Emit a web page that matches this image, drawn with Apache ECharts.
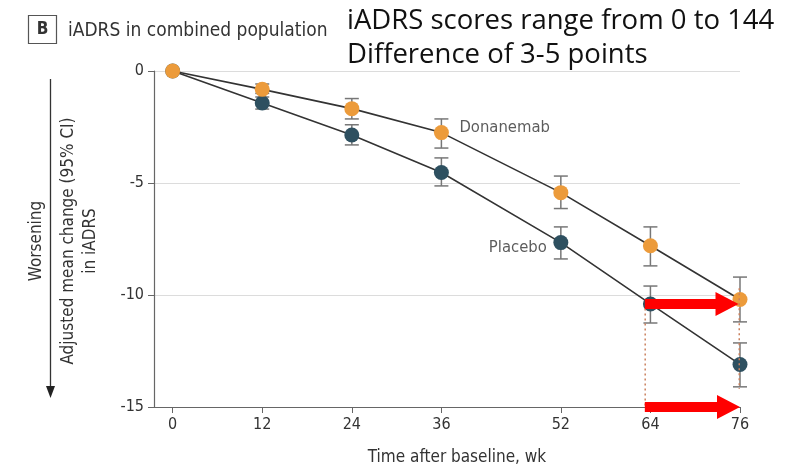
<!DOCTYPE html>
<html>
<head>
<meta charset="utf-8">
<script src="https://cdn.jsdelivr.net/npm/echarts@6/dist/echarts.min.js"></script>
<style>
  html, body { margin: 0; padding: 0; background: #fff; }
  #chart { width: 786px; height: 470px; }
</style>
</head>
<body>
<div id="chart"></div>
<script>
var weeks = [0, 12, 24, 36, 52, 64, 76];
var donanemab = [0, -0.82, -1.68, -2.75, -5.43, -7.8, -10.2];
var donanemabHigh = [null, -0.58, -1.23, -2.14, -4.69, -6.96, -9.2];
var donanemabLow = [null, -1.0, -2.14, -3.44, -6.14, -8.7, -11.2];
var placebo = [0, -1.43, -2.86, -4.53, -7.66, -10.4, -13.1];
var placeboHigh = [null, -1.16, -2.4, -3.88, -6.96, -9.6, -12.14];
var placeboLow = [null, -1.7, -3.3, -5.13, -8.39, -11.25, -14.1];

// red annotation arrows: [fromWeek, toWeek, value]
var arrows = [[63.25, 75.8, -10.4], [63.25, 76, -15]];
// dotted guides: [week, top, bottom]
var guides = [[63.3, -10.6, -15], [75.9, -9.7, -14.2]];

var font = "'Liberation Sans Narrow', 'DejaVu Sans Condensed', sans-serif";
var orange = '#EC9B3B';
var teal = '#2E5060';

function pairs(ys) {
  return weeks.map(function (w, i) { return [w, ys[i]]; });
}
function bars(lo, hi) {
  var out = [];
  weeks.forEach(function (w, i) {
    if (lo[i] != null) out.push([w, lo[i], hi[i]]);
  });
  return out;
}

function errorBarItem(params, api) {
  var x = api.value(0);
  var a = api.coord([x, api.value(1)]);
  var b = api.coord([x, api.value(2)]);
  var hw = 7;
  var st = { stroke: '#777', lineWidth: 1.5 };
  return {
    type: 'group',
    children: [
      { type: 'line', shape: { x1: a[0], y1: a[1], x2: b[0], y2: b[1] }, style: st },
      { type: 'line', shape: { x1: a[0] - hw, y1: a[1], x2: a[0] + hw, y2: a[1] }, style: st },
      { type: 'line', shape: { x1: b[0] - hw, y1: b[1], x2: b[0] + hw, y2: b[1] }, style: st }
    ]
  };
}

var chart = echarts.init(document.getElementById('chart'));

var option = {
  animation: false,
  grid: { left: 154, right: 46, top: 71, bottom: 63 },
  xAxis: {
    type: 'value',
    min: -2.5,
    max: 76,
    splitLine: { show: false },
    axisLine: { onZero: false, lineStyle: { color: '#666', width: 1.2 } },
    axisTick: { customValues: weeks, length: 6, lineStyle: { color: '#666' } },
    axisLabel: { customValues: weeks, color: '#333', fontSize: 16, fontFamily: font, margin: 10 }
  },
  yAxis: {
    type: 'value',
    min: -15,
    max: 0,
    interval: 5,
    axisLine: { show: true, onZero: false, lineStyle: { color: '#666', width: 1.2 } },
    axisTick: { show: true, length: 6, lineStyle: { color: '#666' } },
    axisLabel: { color: '#333', fontSize: 16, fontFamily: font, margin: 10 },
    splitLine: { lineStyle: { color: '#dcdcdc', width: 1.2 } }
  },
  series: [
    {
      type: 'custom',
      renderItem: errorBarItem,
      data: bars(donanemabLow, donanemabHigh),
      z: 2
    },
    {
      type: 'custom',
      renderItem: errorBarItem,
      data: bars(placeboLow, placeboHigh),
      z: 2
    },
    {
      name: 'Placebo',
      type: 'line',
      data: pairs(placebo),
      symbol: 'circle',
      symbolSize: 15,
      itemStyle: { color: teal },
      lineStyle: { color: '#333', width: 1.6 },
      z: 3
    },
    {
      name: 'Donanemab',
      type: 'line',
      data: pairs(donanemab),
      symbol: 'circle',
      symbolSize: 15,
      itemStyle: { color: orange },
      lineStyle: { color: '#333', width: 1.6 },
      z: 4
    },
    {
      // series name labels
      type: 'scatter',
      symbolSize: 0,
      silent: true,
      data: [
        { value: [weeks[3], donanemab[3]], label: { show: true, formatter: 'Donanemab', position: 'right', distance: 18, offset: [0, -5] } },
        { value: [weeks[4], placebo[4]], label: { show: true, formatter: 'Placebo', position: 'left', distance: 14, offset: [0, 5] } }
      ],
      label: { color: '#333', fontSize: 16.5, fontFamily: font },
      z: 5
    },
    {
      type: 'custom',
      silent: true,
      data: guides,
      renderItem: function (params, api) {
        var x = api.value(0);
        var a = api.coord([x, api.value(1)]);
        var b = api.coord([x, api.value(2)]);
        return {
          type: 'line',
          shape: { x1: a[0], y1: a[1], x2: b[0], y2: b[1] },
          style: { stroke: '#C9805E', lineWidth: 1.5, lineDash: [2, 3] }
        };
      },
      z: 6
    },
    {
      type: 'custom',
      silent: true,
      data: arrows,
      renderItem: function (params, api) {
        var p0 = api.coord([api.value(0), api.value(2)]);
        var p1 = api.coord([api.value(1), api.value(2)]);
        var ht = 5, hh = 12, hl = 23;
        var bx = p1[0] - hl, y = p0[1];
        return {
          type: 'polygon',
          shape: {
            points: [
              [p0[0], y - ht], [bx, y - ht], [bx, y - hh], [p1[0], y],
              [bx, y + hh], [bx, y + ht], [p0[0], y + ht]
            ]
          },
          style: { fill: '#FF0000' }
        };
      },
      z: 7
    }
  ],
  graphic: [
    {
      type: 'rect',
      shape: { x: 28.5, y: 15.5, width: 28, height: 28 },
      style: { fill: '#fff', stroke: '#555', lineWidth: 1.2 }
    },
    {
      type: 'text',
      x: 42.5, y: 30,
      style: { text: 'B', fill: '#333', font: 'bold 17px ' + font, align: 'center', verticalAlign: 'middle' }
    },
    {
      type: 'text',
      x: 68, y: 31,
      style: { text: 'iADRS in combined population', fill: '#333', font: '19px ' + font, verticalAlign: 'middle' }
    },
    {
      type: 'text',
      x: 347, y: 21,
      style: { text: 'iADRS scores range from 0 to 144', fill: '#111', font: '27.5px "Open Sans", sans-serif', verticalAlign: 'middle' }
    },
    {
      type: 'text',
      x: 347, y: 55,
      style: { text: 'Difference of 3-5 points', fill: '#111', font: '27.5px "Open Sans", sans-serif', verticalAlign: 'middle' }
    },
    {
      type: 'text',
      x: 80, y: 241,
      rotation: Math.PI / 2,
      style: {
        text: 'Adjusted mean change (95% CI)\nin iADRS',
        fill: '#333', font: '17px ' + font, lineHeight: 22,
        align: 'center', verticalAlign: 'middle'
      }
    },
    {
      type: 'text',
      x: 37, y: 241,
      rotation: Math.PI / 2,
      style: { text: 'Worsening', fill: '#333', font: '17px ' + font, align: 'center', verticalAlign: 'middle' }
    },
    {
      type: 'line',
      shape: { x1: 50.5, y1: 79, x2: 50.5, y2: 390 },
      style: { stroke: '#333', lineWidth: 1.3 }
    },
    {
      type: 'polygon',
      shape: { points: [[46, 386], [55, 386], [50.5, 398]] },
      style: { fill: '#222' }
    },
    {
      type: 'text',
      x: 457, y: 458,
      style: { text: 'Time after baseline, wk', fill: '#333', font: '17px ' + font, align: 'center', verticalAlign: 'middle' }
    }
  ]
};

chart.setOption(option);
</script>
</body>
</html>
